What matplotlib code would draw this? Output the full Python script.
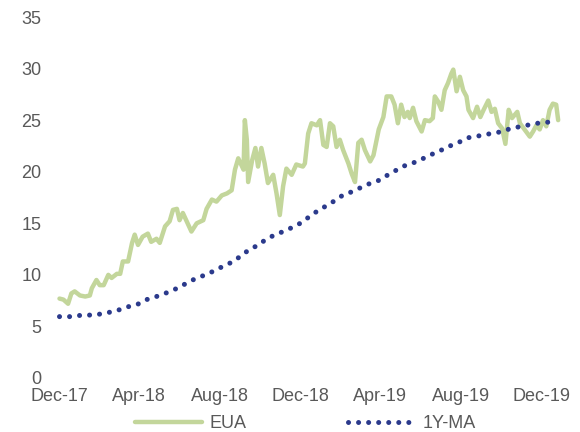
import numpy as np
import pandas as pd
import matplotlib
matplotlib.use("Agg")
import matplotlib.pyplot as plt
import matplotlib.dates as mdates

# series: day offsets from 1 Dec 2017 and price (EUR/t)
start = pd.Timestamp("2017-12-01")

eua_days = [0, 6, 13, 18, 23, 31, 39, 46, 49, 56, 61, 67, 74, 79, 87, 92, 96, 104,
            110, 114, 119, 126, 134, 139, 147, 152, 160, 167, 172, 178, 182, 187,
            200, 208, 218, 223, 231, 238, 246, 254, 261, 266, 271, 279, 281, 284,
            286, 292, 297, 301, 306, 311, 316, 324, 329, 334, 339, 344, 352, 359,
            369, 372, 377, 382, 390, 395, 400, 405, 410, 415, 420, 425, 430, 438,
            443, 448, 453, 458, 463, 471, 476, 484, 491, 496, 503, 508, 513, 518,
            523, 528, 531, 536, 541, 549, 554, 561, 566, 569, 574, 579, 584, 589,
            594, 597, 602, 607, 612, 617, 620, 627, 633, 638, 643, 650, 655, 660,
            665, 671, 676, 681, 686, 694, 698, 705, 713, 718, 723, 728, 733, 738,
            743, 748, 753, 756]
eua_vals = [7.7, 7.6, 7.2, 8.2, 8.4, 8.0, 7.9, 8.0, 8.7, 9.5, 9.0, 9.0, 10.0, 9.7,
            10.1, 10.1, 11.3, 11.3, 13.1, 13.9, 12.9, 13.7, 14.0, 13.2, 13.5, 13.1,
            14.7, 15.2, 16.3, 16.4, 15.3, 16.0, 14.2, 15.0, 15.3, 16.4, 17.3, 17.1,
            17.7, 17.9, 18.2, 20.2, 21.3, 20.2, 25.0, 23.1, 19.0, 21.1, 22.3, 20.5,
            22.3, 20.8, 18.9, 19.7, 17.9, 15.8, 18.6, 20.3, 19.7, 20.7, 20.5, 20.8,
            23.7, 24.7, 24.5, 25.0, 22.6, 22.4, 24.7, 24.4, 22.4, 23.1, 22.1, 20.8,
            19.8, 19.0, 22.8, 23.1, 22.1, 21.0, 21.6, 24.1, 25.3, 27.3, 27.3, 26.5,
            24.7, 26.5, 25.3, 25.8, 25.2, 26.2, 24.9, 23.9, 25.0, 24.9, 25.2, 27.3,
            26.8, 26.0, 27.9, 28.6, 29.5, 29.9, 27.8, 29.2, 27.9, 27.3, 26.0, 25.2,
            26.3, 25.3, 26.0, 26.9, 25.8, 26.1, 24.7, 24.2, 22.7, 26.0, 25.2, 25.8,
            24.7, 24.1, 23.4, 23.9, 24.5, 24.1, 25.0, 24.4, 26.0, 26.6, 26.5, 25.0]

ma_days = [0, 17, 35, 53, 70, 86, 100, 117, 132, 147, 160, 175, 190, 205, 221, 235,
           250, 264, 276, 289, 302, 312, 324, 339, 353, 365, 378, 389, 402, 415,
           429, 445, 458, 472, 486, 498, 512, 524, 538, 552, 565, 579, 592, 607,
           620, 638, 654, 672, 684, 701, 716, 734, 752]
ma_vals = [5.95, 5.95, 6.1, 6.1, 6.3, 6.5, 6.85, 7.1, 7.6, 7.9, 8.2, 8.6, 9.1, 9.6,
           10.0, 10.4, 10.9, 11.3, 11.9, 12.5, 12.9, 13.4, 13.8, 14.2, 14.6, 15.0,
           15.6, 16.1, 16.6, 17.1, 17.7, 18.1, 18.5, 18.9, 19.2, 19.7, 20.2, 20.6,
           20.9, 21.3, 21.7, 22.1, 22.5, 22.9, 23.3, 23.5, 23.7, 23.9, 24.2, 24.4,
           24.6, 24.8, 24.8]

eua_dates = start + pd.to_timedelta(eua_days, unit="D")
ma_dates = start + pd.to_timedelta(ma_days, unit="D")

green = "#c3d69b"
blue = "#2b3a8c"
grey = "#595959"

plt.rcParams['font.family'] = ['Liberation Sans', 'DejaVu Sans']

fig = plt.figure(figsize=(5.8, 4.32), dpi=100)
ax = fig.add_axes([59.5 / 580, 1 - 378 / 432, 499 / 580, (378 - 17) / 432])

ax.plot(eua_dates, eua_vals, color=green, lw=3.2, solid_joinstyle="round",
        solid_capstyle="round", label="EUA", clip_on=False)
ax.plot(ma_dates, ma_vals, color=blue, lw=3.6, linestyle=(0, (0.01, 2.0)),
        dash_capstyle="round", label="1Y-MA", clip_on=False)

ax.set_ylim(0, 35)
ax.set_yticks(np.arange(0, 36, 5))
ax.set_xlim(start, start + pd.Timedelta(days=756.5))
ax.xaxis.set_major_locator(mdates.MonthLocator(bymonth=[4, 8, 12]))
ax.xaxis.set_major_formatter(mdates.DateFormatter("%b-%y"))

for s in ax.spines.values():
    s.set_visible(False)
ax.tick_params(axis="both", length=0, labelsize=13, colors=grey)
ax.tick_params(axis="y", pad=13)
ax.tick_params(axis="x", pad=7)

leg = fig.legend(loc="center", bbox_to_anchor=(0.527, 0.019), ncol=2,
                 frameon=False, fontsize=13, handlelength=3.7,
                 handletextpad=0.45, columnspacing=5.6, borderpad=0)
for t in leg.get_texts():
    t.set_color(grey)

fig.savefig("out.png", dpi=100)
